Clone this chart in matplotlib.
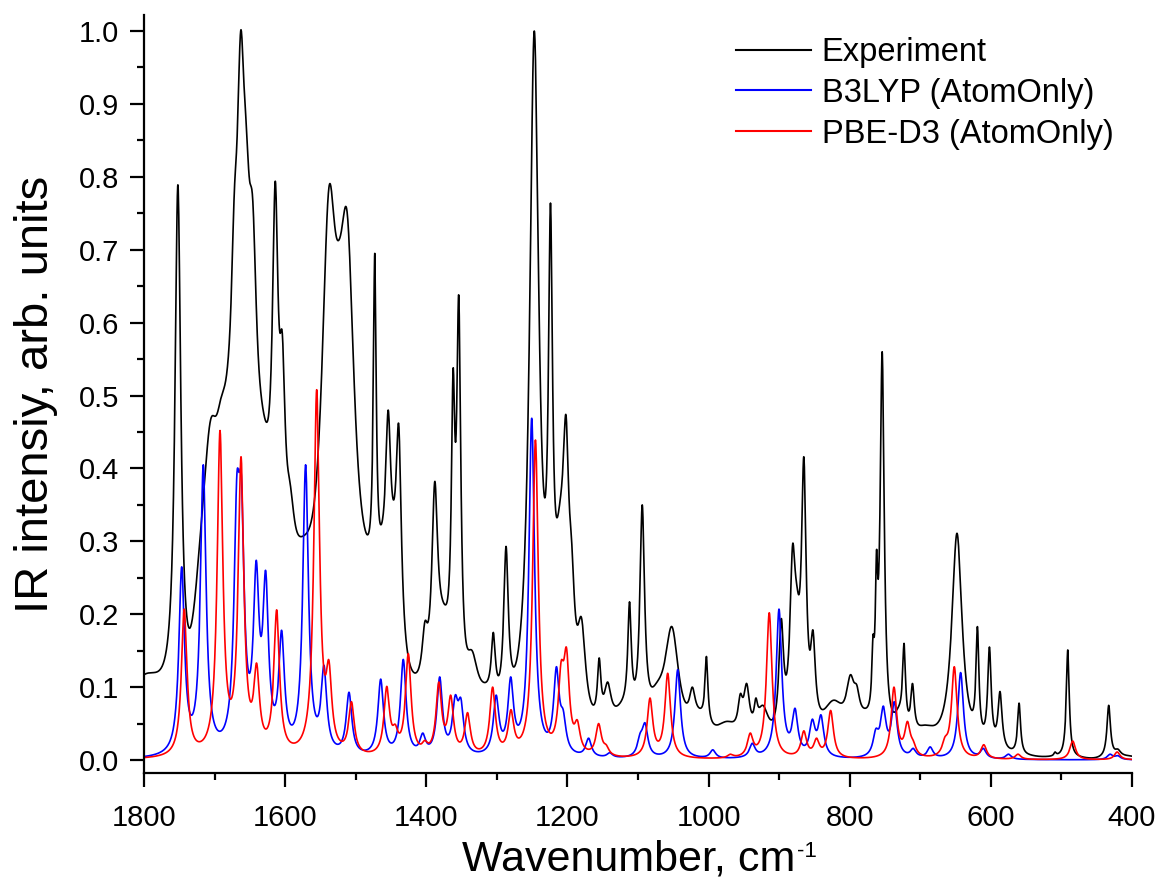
import numpy as np
import matplotlib
matplotlib.use('Agg')
import matplotlib.pyplot as plt
from matplotlib.ticker import MultipleLocator, FormatStrFormatter

# ---------------- data ----------------
# Experiment: key points (wavenumber cm-1, intensity, half width of the band)
exp_pos = [1800, 1752, 1737, 1720, 1706, 1690, 1680, 1672, 1663, 1655, 1646, 1632, 1614, 1604, 1593, 1575,
           1538, 1524, 1512, 1483, 1473, 1462, 1454, 1446, 1439, 1414, 1402, 1388, 1376,
           1362, 1354, 1335, 1315, 1305, 1287, 1247, 1224, 1210, 1202, 1194, 1180, 1155,
           1143, 1121, 1112, 1094, 1073, 1052, 1023, 1012, 1003, 974, 955,
           946, 933, 923, 897, 881, 875, 865, 858, 852, 823, 799, 790, 778, 767, 762,
           754, 730, 723, 711, 693, 648, 619, 602, 587, 560, 530, 509, 491,
           455, 433, 420, 405]
exp_val = [0.117, 0.789, 0.183, 0.311, 0.465, 0.50, 0.56, 0.78, 1.0, 0.87, 0.77, 0.485, 0.794, 0.585, 0.38, 0.307,
           0.785, 0.713, 0.75, 0.309, 0.695, 0.33, 0.48, 0.357, 0.46, 0.12, 0.19, 0.382, 0.217,
           0.537, 0.638, 0.15, 0.107, 0.175, 0.293, 1.0, 0.764, 0.359, 0.473, 0.30, 0.195, 0.14,
           0.107, 0.087, 0.217, 0.35, 0.107, 0.183, 0.10, 0.071, 0.142, 0.053, 0.091,
           0.105, 0.085, 0.075, 0.194, 0.295, 0.24, 0.416, 0.16, 0.178, 0.082, 0.117, 0.103, 0.071,
           0.171, 0.288, 0.56, 0.075, 0.16, 0.105, 0.048, 0.311, 0.183, 0.155, 0.094,
           0.078, 0.005, 0.011, 0.151, 0.003, 0.075, 0.015, 0.006]
exp_hw = [40, 5, 15, 14, 14, 12, 10, 6, 7, 7, 7, 20, 5, 5, 8, 25,
          13, 10, 13, 25, 2.5, 10, 4.5, 10, 4.5, 20, 5, 5, 15,
          3, 3.5, 10, 20, 3.5, 4, 8, 3.5, 10, 5, 5, 7, 3,
          6, 20, 3, 4, 15, 12, 5, 15, 2.5, 20, 4,
          5, 3, 10, 4, 4.5, 6, 4, 5, 4, 20, 7, 5, 15,
          2, 2, 3.5, 10, 2.5, 3, 20, 9, 2.5, 3, 3.5,
          2.5, 20, 2, 2.5, 20, 3, 5, 20]

# B3LYP (AtomOnly): band positions and peak intensities
b3_pos = [1746.6, 1716, 1668.5, 1662, 1641, 1627.6, 1605, 1571, 1545, 1509.5, 1464.6,
          1432.6, 1405, 1381, 1359, 1351, 1301, 1280.4, 1250.6, 1215.6, 1206,
          1170, 1140, 1097, 1090, 1043.7, 994, 938, 900.2, 877.5, 853, 840.7,
          763, 752.4, 736.8, 710, 686, 642.8, 610.7, 575, 431, 420]
b3_val = [0.265, 0.405, 0.39, 0.39, 0.274, 0.26, 0.178, 0.405, 0.13, 0.093, 0.111,
          0.138, 0.037, 0.114, 0.089, 0.085, 0.089, 0.114, 0.469, 0.128, 0.069,
          0.03, 0.01, 0.037, 0.051, 0.124, 0.014, 0.023, 0.207, 0.071, 0.056, 0.062,
          0.043, 0.074, 0.08, 0.016, 0.018, 0.12, 0.016, 0.008, 0.008, 0.006]

# PBE-D3 (AtomOnly): band positions and peak intensities
pbe_pos = [1743, 1692.3, 1662.5, 1640.4, 1612, 1555.3, 1538, 1506, 1456, 1444,
           1425.5, 1402, 1382.2, 1365.4, 1341.5, 1306, 1280, 1245.3, 1209, 1201.3,
           1186, 1155.8, 1145, 1083, 1057.9, 969, 941, 914, 865, 847, 827,
           737.3, 718.2, 710, 665, 651.8, 610, 561.5, 484, 421]
pbe_val = [0.207, 0.452, 0.416, 0.133, 0.206, 0.508, 0.137, 0.08, 0.101, 0.049,
           0.146, 0.027, 0.107, 0.089, 0.065, 0.10, 0.069, 0.439, 0.135, 0.154,
           0.055, 0.05, 0.021, 0.085, 0.119, 0.008, 0.037, 0.202, 0.04, 0.03, 0.068,
           0.10, 0.053, 0.027, 0.032, 0.128, 0.021, 0.008, 0.026, 0.011]

CALC_HW = 4.8  # Lorentzian half width used for the computed spectra

series_names = ['Experiment', 'B3LYP (AtomOnly)', 'PBE-D3 (AtomOnly)']
series_colors = ['black', '#0000ff', '#ff0000']


def lorentz(x, c, g):
    return g ** 2 / ((x - c) ** 2 + g ** 2)


def spectrum(x, pos, val, hw):
    pos = np.asarray(pos, float)
    val = np.asarray(val, float)
    hw = np.broadcast_to(np.asarray(hw, float), pos.shape)
    A = lorentz(pos[:, None], pos[None, :], hw[None, :])
    amp = np.linalg.solve(A, val)
    return (lorentz(x[:, None], pos[None, :], hw[None, :]) * amp).sum(axis=1)


x = np.linspace(400, 1800, 5601)
y_exp = spectrum(x, exp_pos, exp_val, exp_hw)
y_b3 = spectrum(x, b3_pos, b3_val, CALC_HW)
y_pbe = spectrum(x, pbe_pos, pbe_val, CALC_HW)

# ---------------- drawing ----------------
plt.rcParams['font.family'] = ['Liberation Sans', 'DejaVu Sans']

W, H = 1163, 882
fig = plt.figure(figsize=(W / 100, H / 100), dpi=100)
ax = fig.add_axes([144 / W, 1 - 773 / H, (1132 - 144) / W, (773 - 15) / H])

for yy, name, col in zip([y_exp, y_b3, y_pbe], series_names, series_colors):
    ax.plot(x, yy, color=col, lw=1.2, label=name)

ax.set_xlim(1800, 400)
ax.set_ylim(-0.0178, 1.022)
ax.xaxis.set_major_locator(MultipleLocator(200))
ax.xaxis.set_minor_locator(MultipleLocator(100))
ax.yaxis.set_major_locator(MultipleLocator(0.1))
ax.yaxis.set_minor_locator(MultipleLocator(0.05))
ax.yaxis.set_major_formatter(FormatStrFormatter('%.1f'))

for s in ['top', 'right']:
    ax.spines[s].set_visible(False)
for s in ['left', 'bottom']:
    ax.spines[s].set_linewidth(1.6)

ax.tick_params(which='major', direction='out', length=10, width=1.6, labelsize=21)
ax.tick_params(which='minor', direction='out', length=5, width=1.6)
ax.tick_params(axis='y', which='major', pad=8)
ax.tick_params(axis='x', which='major', pad=12)

ax.set_xlabel('Wavenumber, cm', fontsize=31, labelpad=6)
ax.xaxis.label.set_x(0.5 - 9 / 988)
ax.set_ylabel('IR intensiy, arb. units', fontsize=34, labelpad=15)

leg = ax.legend(loc='upper left', bbox_to_anchor=(736 / W, 1 - 37 / H),
                bbox_transform=fig.transFigure, frameon=False, fontsize=23.5,
                handlelength=2.3, handletextpad=0.33, labelspacing=0.3,
                borderpad=0, borderaxespad=0)
for line in leg.get_lines():
    line.set_linewidth(1.5)

# superscript "-1" after the x label
fig.canvas.draw()
renderer = fig.canvas.get_renderer()
lab = ax.xaxis.label
bb = lab.get_window_extent(renderer)
_, _, descent = renderer.get_text_width_height_descent(lab.get_text(), lab.get_fontproperties(), ismath=False)
baseline = bb.y0 + descent
fig.text((bb.x1 + 1) / W, (baseline + 17) / H, '-1', fontsize=16, ha='left', va='baseline')

fig.savefig('out.png', dpi=100)
